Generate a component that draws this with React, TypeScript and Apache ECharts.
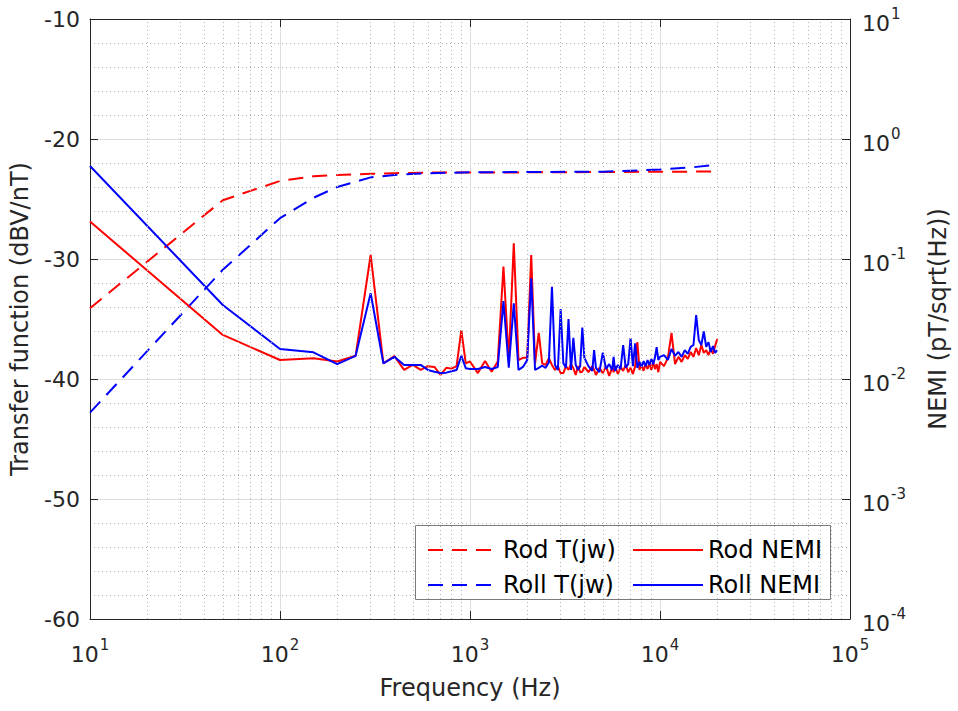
import React, { useEffect, useRef } from "react";
import * as echarts from "echarts";

// Transfer function T(jw) (left axis, dBV/nT)
const tFreq = [10, 50, 100, 150, 200, 300, 400, 600, 1000, 2000, 5000, 10000, 15000, 20000];
const rodT = [-34.1, -25.1, -23.5, -23.1, -23.0, -22.9, -22.85, -22.8, -22.8, -22.78, -22.75, -22.73, -22.72, -22.7];
const rollT = [-42.8, -30.9, -26.6, -24.9, -24.0, -23.2, -23.0, -22.85, -22.78, -22.75, -22.72, -22.55, -22.35, -22.15];

// NEMI (right axis, pT/sqrt(Hz))
const nemiFreq = [
  10, 50, 100, 150, 200, 250, 300, 350, 400, 450, 500, 550, 600, 650, 700, 750, 800, 850, 900, 950, 1000,
  1100, 1200, 1300, 1400, 1500, 1600, 1700, 1800, 1900, 2000, 2100, 2200, 2300, 2400, 2500, 2600, 2700, 2800, 2900, 3000,
  3100, 3200, 3300, 3400, 3500, 3600, 3700, 3800, 3900, 4000,
  4200, 4400, 4500, 4600, 4800, 5000, 5200, 5400, 5600, 5700, 5800, 6000,
  6200, 6400, 6600, 6800, 7000, 7200, 7400, 7600, 7800, 8000, 8200, 8400, 8600, 8800, 9000, 9200, 9400, 9600, 9800, 10000,
  10500, 11000, 11500, 12000, 12500, 13000, 13500, 14000, 14500, 15000, 15500, 16000, 16500, 17000, 17500, 18000, 18500, 19000, 19500, 20000,
];
const rodNemi = [
  0.205, 0.0233, 0.0144, 0.0149, 0.014, 0.0156, 0.108, 0.0135, 0.0155, 0.0119, 0.0131, 0.0119, 0.0128, 0.0126, 0.0108, 0.0124, 0.0122, 0.0128, 0.0256, 0.0135, 0.014,
  0.0112, 0.0141, 0.0115, 0.014, 0.0863, 0.0144, 0.135, 0.0144, 0.015, 0.015, 0.108, 0.0135, 0.0242, 0.0135, 0.0131, 0.0149, 0.0131, 0.0119, 0.0128, 0.0112,
  0.0112, 0.0128, 0.0119, 0.0133, 0.0123, 0.0108, 0.0128, 0.0114, 0.0115, 0.0126,
  0.0114, 0.0128, 0.0119, 0.0108, 0.0124, 0.0112, 0.0128, 0.0106, 0.0124, 0.0114, 0.0128, 0.011,
  0.0126, 0.0117, 0.0131, 0.0114, 0.0124, 0.011, 0.0128, 0.0203, 0.0119, 0.0131, 0.0117, 0.0133, 0.0121, 0.0136, 0.0119, 0.0139, 0.0121, 0.0133, 0.0114, 0.0139,
  0.0128, 0.015, 0.0242, 0.0133, 0.0153, 0.0139, 0.0158, 0.0147, 0.0168, 0.0153, 0.0181, 0.0158, 0.0192, 0.0165, 0.0174, 0.0158, 0.0178, 0.0162, 0.0188, 0.0215,
];
const rollNemi = [
  0.596, 0.0414, 0.0178, 0.0167, 0.0133, 0.0156, 0.0518, 0.0135, 0.0153, 0.0131, 0.0131, 0.0131, 0.0119, 0.0115, 0.0112, 0.0113, 0.0116, 0.0119, 0.0156, 0.0123, 0.0121,
  0.0121, 0.0126, 0.0121, 0.0126, 0.0447, 0.0124, 0.0427, 0.0119, 0.0126, 0.0144, 0.069, 0.0119, 0.0124, 0.0129, 0.0124, 0.0137, 0.0588, 0.0131, 0.0119, 0.0383,
  0.0135, 0.0124, 0.0316, 0.0119, 0.022, 0.0131, 0.0119, 0.0128, 0.0268, 0.015,
  0.0128, 0.0117, 0.0174, 0.0124, 0.0114, 0.0166, 0.0121, 0.0133, 0.0119, 0.0153, 0.0117, 0.0131,
  0.0121, 0.0192, 0.0124, 0.0133, 0.0219, 0.0128, 0.0198, 0.0124, 0.0139, 0.0126, 0.0141, 0.0128, 0.0144, 0.0131, 0.0147, 0.0133, 0.015, 0.0184, 0.0144, 0.0153,
  0.0158, 0.0144, 0.0178, 0.0156, 0.0168, 0.0153, 0.0174, 0.0162, 0.0185, 0.0192, 0.0341, 0.0211, 0.0192, 0.0249, 0.0185, 0.0203, 0.0168, 0.0188, 0.0165, 0.0174,
];

const seriesNames = ["Rod T(jw)", "Roll T(jw)", "Rod NEMI", "Roll NEMI"];
const decadeStarts = [10, 100, 1000, 10000];
const minorMultipliers = [2, 3, 4, 5, 6, 7, 8, 9];

const FONT = "DejaVu Sans";
const INK = "#262626";
const RED = "#ff0000";
const BLUE = "#0000ff";

const supLabel = (v: number) => {
  const e = Math.round(Math.log10(v));
  return `{b|10}{s|${e}}`;
};

const rich = {
  b: { fontSize: 22, fontFamily: FONT, color: INK, lineHeight: 26 },
  s: { fontSize: 15, fontFamily: FONT, color: INK, lineHeight: 16, padding: [0, 0, 18, 1] },
};

export default function App() {
  const ref = useRef<HTMLDivElement>(null);

  useEffect(() => {
    if (!ref.current) return;
    const chart = echarts.init(ref.current, null, { renderer: "svg" });

    const minorX: number[] = [];
    decadeStarts.forEach((d) => minorMultipliers.forEach((k) => minorX.push(d * k)));

    const dashed = [15, 9];
    const legendCommon = {
      orient: "vertical",
      top: 531,
      itemWidth: 70,
      itemHeight: 14,
      itemGap: 7,
      selectedMode: false,
      z: 10,
      itemStyle: { opacity: 0 },
      textStyle: { fontFamily: FONT, fontSize: 24, color: "#000", lineHeight: 28 },
    };

    chart.setOption({
      animation: false,
      backgroundColor: "#ffffff",
      grid: { left: 90, top: 19, right: 108, bottom: 92, containLabel: false },
      graphic: [
        {
          type: "rect",
          left: 415,
          top: 525,
          z: 5,
          shape: { width: 415, height: 74 },
          style: { fill: "#ffffff", stroke: "#7a7a7a", lineWidth: 1 },
          silent: true,
        },
      ],
      legend: [
        { ...legendCommon, data: [seriesNames[0], seriesNames[1]], left: 422 },
        { ...legendCommon, data: [seriesNames[2], seriesNames[3]], left: 627 },
      ],
      xAxis: [
        {
          type: "log",
          logBase: 10,
          min: 10,
          max: 100000,
          position: "bottom",
          name: "Frequency (Hz)",
          nameLocation: "middle",
          nameGap: 57,
          nameTextStyle: { fontFamily: FONT, fontSize: 24, color: INK },
          axisLine: { show: true, onZero: false, lineStyle: { color: INK, width: 1 } },
          axisTick: { show: true, inside: true, length: 8, lineStyle: { color: INK } },
          axisLabel: { margin: 22, formatter: supLabel, rich },
          splitLine: { show: true, lineStyle: { color: "#dedede", width: 1 } },
          minorTick: { show: false },
          minorSplitLine: { show: false },
        },
        {
          type: "log",
          logBase: 10,
          min: 10,
          max: 100000,
          position: "top",
          axisLine: { show: true, onZero: false, lineStyle: { color: INK, width: 1 } },
          axisTick: { show: true, inside: true, length: 8, lineStyle: { color: INK } },
          axisLabel: { show: false },
          splitLine: { show: false },
        },
      ],
      yAxis: [
        {
          type: "value",
          min: -60,
          max: -10,
          interval: 10,
          position: "left",
          name: "Transfer function (dBV/nT)",
          nameLocation: "middle",
          nameGap: 58,
          nameRotate: 90,
          nameTextStyle: { fontFamily: FONT, fontSize: 24, color: INK },
          axisLine: { show: true, onZero: false, lineStyle: { color: INK, width: 1 } },
          axisTick: { show: true, inside: true, length: 8, lineStyle: { color: INK } },
          axisLabel: { fontFamily: FONT, fontSize: 22, color: INK, margin: 10 },
          splitLine: { show: true, lineStyle: { color: "#dedede", width: 1 } },
          minorTick: { show: false, splitNumber: 5 },
          minorSplitLine: { show: true, lineStyle: { color: "#b4b4b4", width: 1, type: [1, 3] } },
        },
        {
          type: "log",
          logBase: 10,
          min: 0.0001,
          max: 10,
          position: "right",
          name: "NEMI (pT/sqrt(Hz))",
          nameLocation: "middle",
          nameGap: 76,
          nameRotate: 90,
          nameTextStyle: { fontFamily: FONT, fontSize: 24, color: INK },
          axisLine: { show: true, onZero: false, lineStyle: { color: INK, width: 1 } },
          axisTick: { show: true, inside: true, length: 8, lineStyle: { color: INK } },
          axisLabel: { margin: 12, formatter: supLabel, rich, padding: [8, 0, 0, 0] },
          splitLine: { show: false },
        },
      ],
      series: [
        {
          type: "line",
          data: [],
          xAxisIndex: 0,
          yAxisIndex: 0,
          silent: true,
          z: 1,
          markLine: {
            silent: true,
            symbol: ["none", "none"],
            label: { show: false },
            lineStyle: { color: "#b4b4b4", width: 1, type: [1, 3] },
            emphasis: { disabled: true },
            data: minorX.map((v) => ({ xAxis: v })),
          },
        },
        {
          name: seriesNames[0],
          type: "line",
          xAxisIndex: 0,
          yAxisIndex: 0,
          data: tFreq.map((f, i) => [f, rodT[i]]),
          symbol: "none",
          showSymbol: false,
          silent: true,
          z: 3,
          itemStyle: { color: RED },
          lineStyle: { color: RED, width: 2, type: dashed },
        },
        {
          name: seriesNames[1],
          type: "line",
          xAxisIndex: 0,
          yAxisIndex: 0,
          data: tFreq.map((f, i) => [f, rollT[i]]),
          symbol: "none",
          showSymbol: false,
          silent: true,
          z: 3,
          itemStyle: { color: BLUE },
          lineStyle: { color: BLUE, width: 2, type: dashed },
        },
        {
          name: seriesNames[2],
          type: "line",
          xAxisIndex: 0,
          yAxisIndex: 1,
          data: nemiFreq.map((f, i) => [f, rodNemi[i]]),
          symbol: "none",
          showSymbol: false,
          silent: true,
          z: 4,
          itemStyle: { color: RED },
          lineStyle: { color: RED, width: 2 },
        },
        {
          name: seriesNames[3],
          type: "line",
          xAxisIndex: 0,
          yAxisIndex: 1,
          data: nemiFreq.map((f, i) => [f, rollNemi[i]]),
          symbol: "none",
          showSymbol: false,
          silent: true,
          z: 4,
          itemStyle: { color: BLUE },
          lineStyle: { color: BLUE, width: 2 },
        },
      ],
    });

    return () => chart.dispose();
  }, []);

  return (
    <div
      ref={ref}
      style={{ position: "fixed", left: 0, top: 0, width: 958, height: 711, background: "#ffffff" }}
    />
  );
}
